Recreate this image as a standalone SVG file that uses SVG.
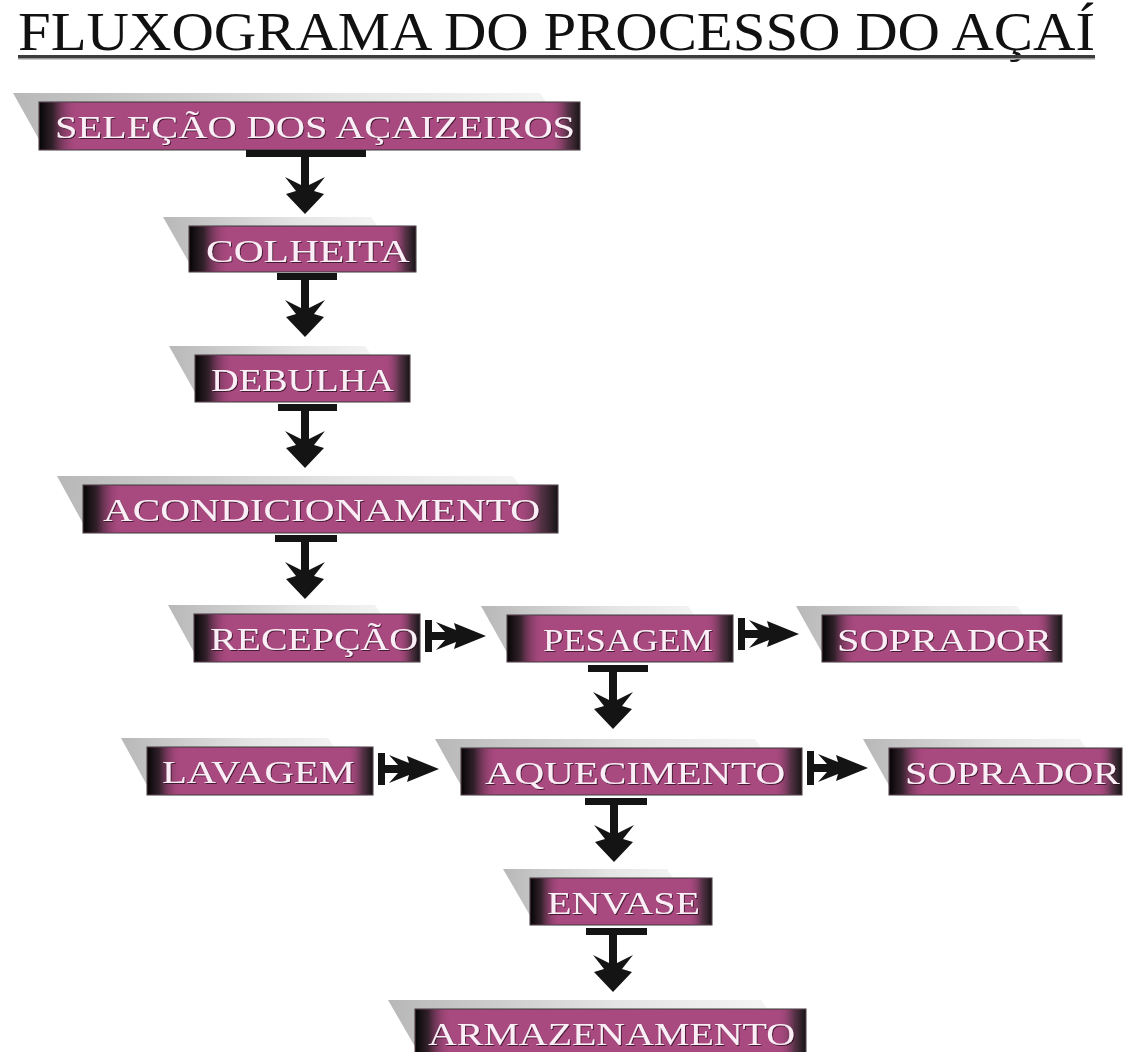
<svg xmlns="http://www.w3.org/2000/svg" xmlns:xlink="http://www.w3.org/1999/xlink" width="1123" height="1052" viewBox="0 0 1123 1052">
  <style>
    .title { font-family: "Liberation Serif", "Times New Roman", serif; font-size: 54px; fill: #111; }
    .shade { fill: url(#shadeGrad); }
    .box { fill: #a8497f; stroke: #3a3a3a; stroke-width: 1; }
    .fadeL { fill: url(#fadeLeft); }
    .fadeR { fill: url(#fadeRight); }
    .label { font-family: "Liberation Serif", "Times New Roman", serif; font-size: 31px; fill: #fbeef6; filter: url(#emboss); }
    .conn { fill: #141414; }
  </style>
  <defs>
    <linearGradient id="shadeGrad" x1="0" y1="0" x2="1" y2="0">
      <stop offset="0" stop-color="#b8b8b8"/>
      <stop offset="0.6" stop-color="#e4e4e4"/>
      <stop offset="1" stop-color="#f4f4f4"/>
    </linearGradient>
    <linearGradient id="fadeLeft" x1="0" y1="0" x2="1" y2="0">
      <stop offset="0" stop-color="#050505" stop-opacity="1"/>
      <stop offset="0.35" stop-color="#1e1a1c" stop-opacity="0.85"/>
      <stop offset="1" stop-color="#a8497f" stop-opacity="0"/>
    </linearGradient>
    <linearGradient id="fadeRight" x1="0" y1="0" x2="1" y2="0">
      <stop offset="0" stop-color="#a8497f" stop-opacity="0"/>
      <stop offset="0.6" stop-color="#3a2a33" stop-opacity="0.75"/>
      <stop offset="1" stop-color="#161616" stop-opacity="1"/>
    </linearGradient>
    <filter id="emboss" x="-5%" y="-20%" width="110%" height="140%">
      <feDropShadow dx="1" dy="1" stdDeviation="0.6" flood-color="#2a0c20" flood-opacity="0.8"/>
    </filter>
    <!-- downward double-barbed arrow, origin at the bottom of the T bar -->
    <path id="ah-down" d="M-4,0 L-4,28 L-20,20 L-9,34 L-19,37 L0,57 L19,37 L9,34 L20,20 L4,28 L4,0 Z"/>
    <!-- rightward double-barbed arrow, origin at the right side of the bar -->
    <path id="ah-right" d="M0,-4 L13,-4 L4,-14 L24,-6 L22,-13 L54,0 L22,13 L24,6 L4,14 L13,4 L0,4 Z"/>
  </defs>

  <rect width="1123" height="1052" fill="#ffffff"/>

  <!-- heading -->
  <g id="heading">
    <text class="title" x="18" y="50" textLength="1077" lengthAdjust="spacingAndGlyphs">FLUXOGRAMA DO PROCESSO DO AÇAÍ</text>
    <rect x="18" y="55" width="1077" height="3" fill="#3c3c3c"/>
    <rect x="18" y="58" width="1077" height="1.5" fill="#9a9a9a"/>
  </g>

  <!-- process steps -->
  <g id="n-selecao">
    <polygon class="shade" points="13,93 540,93 552,110 41,143"/>
    <rect class="box" x="39" y="102" width="541" height="48"/>
    <rect class="fadeL" x="39.5" y="102.5" width="38" height="47"/>
    <rect class="fadeR" x="550" y="102.5" width="29.5" height="47"/>
    <text class="label" x="55" y="138" textLength="520" lengthAdjust="spacingAndGlyphs">SELEÇÃO DOS AÇAIZEIROS</text>
  </g>

  <g id="n-colheita">
    <polygon class="shade" points="163,217 371,217 383,234 191,266"/>
    <rect class="box" x="189" y="226" width="227" height="46"/>
    <rect class="fadeL" x="189.5" y="226.5" width="40" height="45"/>
    <rect class="fadeR" x="390" y="226.5" width="25.5" height="45"/>
    <text class="label" x="206" y="262" textLength="204" lengthAdjust="spacingAndGlyphs">COLHEITA</text>
  </g>

  <g id="n-debulha">
    <polygon class="shade" points="169,346 365,346 377,363 197,396"/>
    <rect class="box" x="195" y="355" width="215" height="47"/>
    <rect class="fadeL" x="195.5" y="355.5" width="38" height="46"/>
    <rect class="fadeR" x="385" y="355.5" width="24.5" height="46"/>
    <text class="label" x="211" y="391" textLength="183" lengthAdjust="spacingAndGlyphs">DEBULHA</text>
  </g>

  <g id="n-acondicionamento">
    <polygon class="shade" points="57,476 513,476 525,493 85,527"/>
    <rect class="box" x="83" y="485" width="475" height="48"/>
    <rect class="fadeL" x="83.5" y="485.5" width="38" height="47"/>
    <rect class="fadeR" x="516" y="485.5" width="41.5" height="47"/>
    <text class="label" x="103" y="521" textLength="437" lengthAdjust="spacingAndGlyphs">ACONDICIONAMENTO</text>
  </g>

  <g id="n-recepcao">
    <polygon class="shade" points="168,605 375,605 387,622 196,656"/>
    <rect class="box" x="194" y="614" width="226" height="48"/>
    <rect class="fadeL" x="194.5" y="614.5" width="34" height="47"/>
    <rect class="fadeR" x="398" y="614.5" width="21.5" height="47"/>
    <text class="label" x="210" y="650" textLength="208" lengthAdjust="spacingAndGlyphs">RECEPÇÃO</text>
  </g>

  <g id="n-pesagem">
    <polygon class="shade" points="481,606 688,606 700,623 509,656"/>
    <rect class="box" x="507" y="615" width="226" height="47"/>
    <rect class="fadeL" x="507.5" y="615.5" width="36" height="46"/>
    <rect class="fadeR" x="706" y="615.5" width="26.5" height="46"/>
    <text class="label" x="543" y="651" textLength="170" lengthAdjust="spacingAndGlyphs">PESAGEM</text>
  </g>

  <g id="n-soprador-1">
    <polygon class="shade" points="796,606 1017,606 1029,623 824,656"/>
    <rect class="box" x="822" y="615" width="240" height="47"/>
    <rect class="fadeL" x="822.5" y="615.5" width="34" height="46"/>
    <rect class="fadeR" x="1036" y="615.5" width="25.5" height="46"/>
    <text class="label" x="837" y="651" textLength="215" lengthAdjust="spacingAndGlyphs">SOPRADOR</text>
  </g>

  <g id="n-lavagem">
    <polygon class="shade" points="121,738 328,738 340,755 149,789"/>
    <rect class="box" x="147" y="747" width="226" height="48"/>
    <rect class="fadeL" x="147.5" y="747.5" width="34" height="47"/>
    <rect class="fadeR" x="348" y="747.5" width="24.5" height="47"/>
    <text class="label" x="162" y="783" textLength="193" lengthAdjust="spacingAndGlyphs">LAVAGEM</text>
  </g>

  <g id="n-aquecimento">
    <polygon class="shade" points="435,739 755,739 767,756 463,789"/>
    <rect class="box" x="461" y="748" width="341" height="47"/>
    <rect class="fadeL" x="461.5" y="748.5" width="36" height="46"/>
    <rect class="fadeR" x="774" y="748.5" width="27.5" height="46"/>
    <text class="label" x="485" y="784" textLength="300" lengthAdjust="spacingAndGlyphs">AQUECIMENTO</text>
  </g>

  <g id="n-soprador-2">
    <polygon class="shade" points="863,739 1080,739 1092,756 891,789"/>
    <rect class="box" x="889" y="748" width="233" height="47"/>
    <rect class="fadeL" x="889.5" y="748.5" width="36" height="46"/>
    <rect class="fadeR" x="1098" y="748.5" width="23.5" height="46"/>
    <text class="label" x="905" y="784" textLength="215" lengthAdjust="spacingAndGlyphs">SOPRADOR</text>
  </g>

  <g id="n-envase">
    <polygon class="shade" points="503,869 667,869 679,886 532,919"/>
    <rect class="box" x="530" y="878" width="182" height="47"/>
    <rect class="fadeL" x="530.5" y="878.5" width="30" height="46"/>
    <rect class="fadeR" x="688" y="878.5" width="23.5" height="46"/>
    <text class="label" x="547" y="914" textLength="153" lengthAdjust="spacingAndGlyphs">ENVASE</text>
  </g>

  <g id="n-armazenamento">
    <polygon class="shade" points="388,1000 761,1000 773,1017 417,1050"/>
    <rect class="box" x="415" y="1009" width="391" height="48"/>
    <rect class="fadeL" x="415.5" y="1009.5" width="36" height="47"/>
    <rect class="fadeR" x="778" y="1009.5" width="27.5" height="47"/>
    <text class="label" x="428" y="1045" textLength="367" lengthAdjust="spacingAndGlyphs">ARMAZENAMENTO</text>
  </g>

  <!-- connectors: T bar + double-barbed head -->
  <g id="connectors" class="conn">
    <rect x="246" y="150" width="120" height="7"/>
    <use xlink:href="#ah-down" href="#ah-down" transform="translate(305,157)"/>

    <rect x="277" y="273" width="60" height="7"/>
    <use xlink:href="#ah-down" href="#ah-down" transform="translate(305,280)"/>

    <rect x="278" y="404" width="59" height="7"/>
    <use xlink:href="#ah-down" href="#ah-down" transform="translate(305,411)"/>

    <rect x="275" y="535" width="62" height="7"/>
    <use xlink:href="#ah-down" href="#ah-down" transform="translate(305,542)"/>

    <rect x="425" y="620" width="7" height="32"/>
    <use xlink:href="#ah-right" href="#ah-right" transform="translate(432,636)"/>

    <rect x="738" y="618" width="7" height="32"/>
    <use xlink:href="#ah-right" href="#ah-right" transform="translate(745,634)"/>

    <rect x="588" y="665" width="60" height="7"/>
    <use xlink:href="#ah-down" href="#ah-down" transform="translate(613,672)"/>

    <rect x="378" y="753" width="7" height="32"/>
    <use xlink:href="#ah-right" href="#ah-right" transform="translate(385,769)"/>

    <rect x="807" y="751" width="7" height="34"/>
    <use xlink:href="#ah-right" href="#ah-right" transform="translate(814,768)"/>

    <rect x="585" y="798" width="62" height="7"/>
    <use xlink:href="#ah-down" href="#ah-down" transform="translate(614,805)"/>

    <rect x="586" y="928" width="61" height="7"/>
    <use xlink:href="#ah-down" href="#ah-down" transform="translate(613,935)"/>
  </g>
</svg>
